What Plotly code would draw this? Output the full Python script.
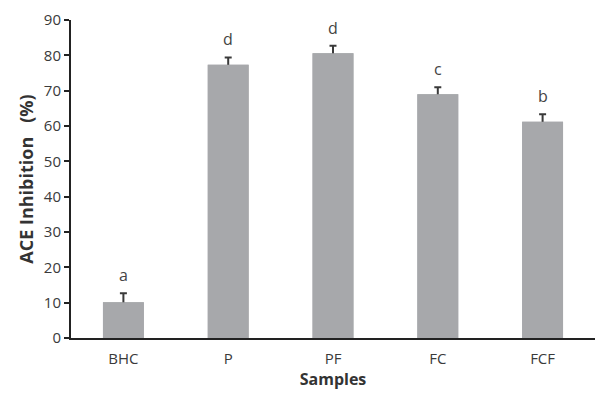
import plotly.graph_objects as go

samples = ["BHC", "P", "PF", "FC", "FCF"]
inhibition = [10.1, 77.3, 80.6, 69.0, 61.2]
errors = [2.6, 2.1, 2.1, 2.0, 2.1]
letters = ["a", "d", "d", "c", "b"]

bar_color = "#a7a8ab"

fig = go.Figure()
# Bars with error bars (lower half is hidden by the overlaid copy below)
fig.add_trace(go.Bar(
    x=samples, y=inhibition,
    marker=dict(color=bar_color, line=dict(width=0)),
    error_y=dict(type="data", array=errors, symmetric=True,
                 color="#3a3a3a", thickness=2, width=3.5),
    width=0.39,
))
# Same bars drawn again on top so that only the upper part of the error bar shows
fig.add_trace(go.Bar(
    x=samples, y=inhibition,
    marker=dict(color=bar_color, line=dict(width=0)),
    width=0.39, hoverinfo="skip",
))

for s, v, e, l in zip(samples, inhibition, errors, letters):
    fig.add_annotation(x=s, y=v + e, text=l, showarrow=False,
                       yanchor="bottom", yshift=5,
                       font=dict(family="Open Sans", size=16, color="#444444"))

fig.update_layout(
    width=597, height=393,
    margin=dict(l=71, r=2, t=20, b=55),
    paper_bgcolor="white", plot_bgcolor="white",
    showlegend=False, barmode="overlay",
    font=dict(family="Open Sans", color="#333333"),
)
fig.update_xaxes(
    showline=True, linecolor="#222222", linewidth=2,
    ticks="", tickfont=dict(size=15, color="#3a3a3a"),
    ticklabelstandoff=6,
    title=dict(text="<b>Samples</b>", font=dict(size=16, color="#333333"), standoff=4),
    showgrid=False,
)
fig.update_yaxes(
    range=[0, 90], dtick=10, tick0=0,
    showline=True, linecolor="#222222", linewidth=2,
    ticks="outside", ticklen=5, tickwidth=2, tickcolor="#222222",
    tickfont=dict(size=15, color="#3a3a3a"),
    title=dict(text="<b>ACE Inhibition   (%)</b>", font=dict(size=18, color="#333333"), standoff=6),
    showgrid=False, zeroline=False,
)

fig.write_html("out.html")
